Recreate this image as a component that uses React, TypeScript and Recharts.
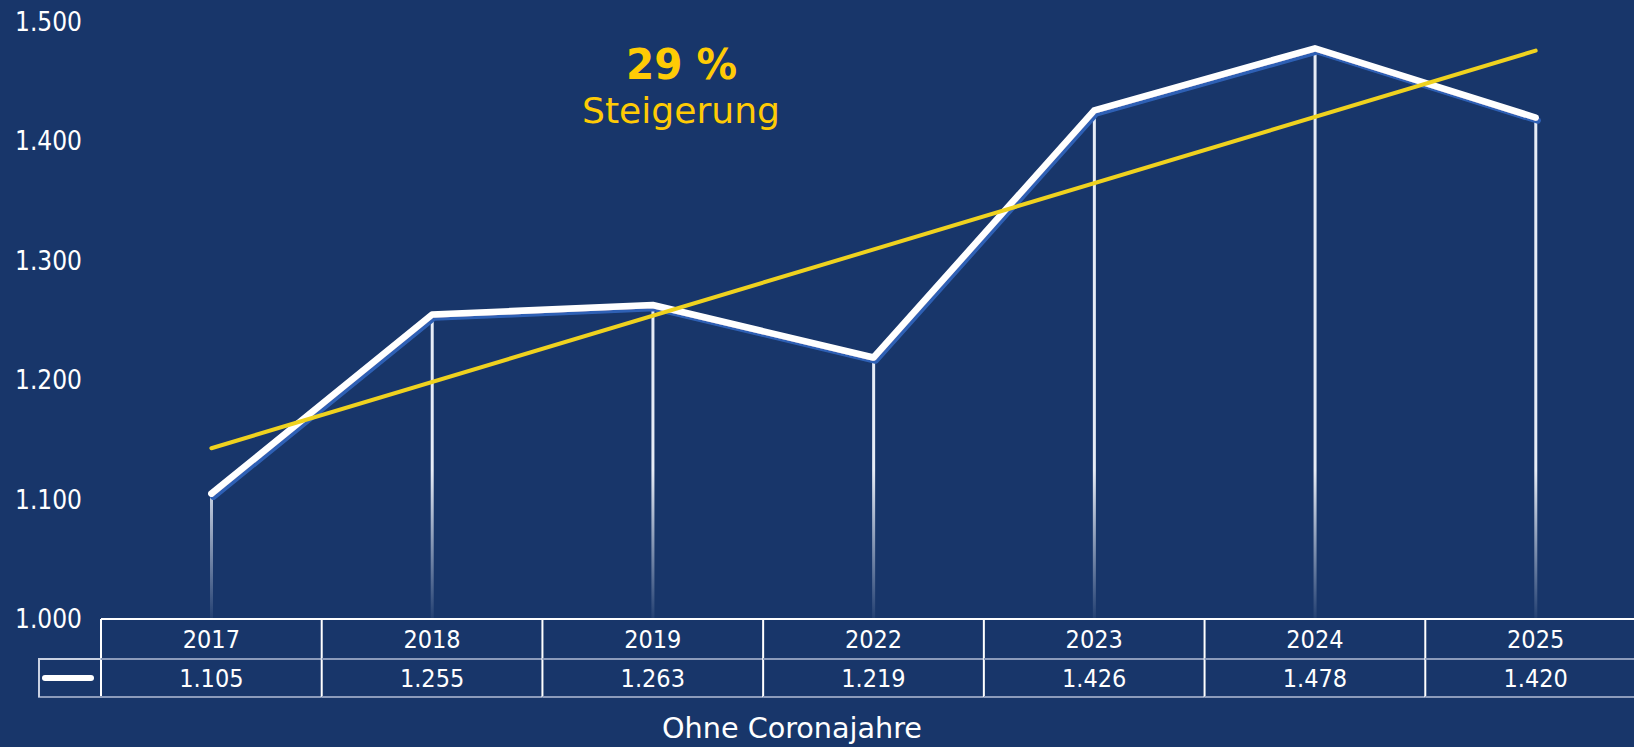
import { ComposedChart, Line, Bar, XAxis, YAxis } from 'recharts'

const years = ['2017', '2018', '2019', '2022', '2023', '2024', '2025']
const values = [1105, 1255, 1263, 1219, 1426, 1478, 1420]
// trend line end points
const trend = [1143, null, null, null, null, null, 1476]
const yTicks = [1000, 1100, 1200, 1300, 1400, 1500]

const BG = '#18366a'
const FONT = '"DejaVu Sans Condensed", "DejaVu Sans", sans-serif'
const W = 1634
const H = 747
// the plot runs a little past the right edge, like the original
const CHART_W = 1646
const PLOT_LEFT = 101
const BAND = (CHART_W - PLOT_LEFT) / years.length

const data = years.map((year, i) => ({ year, value: values[i], trend: trend[i] }))

const fmt = (n: number) => `${Math.floor(n / 1000)}.${String(n % 1000).padStart(3, '0')}`

function YTick({ y, payload }: any) {
  return (
    <text x={15} y={y} dy={9} fill="#fff" fontSize={26} fontFamily={FONT} textAnchor="start">
      {fmt(payload.value)}
    </text>
  )
}

function TableTick({ x, y, payload }: any) {
  const i = payload.index
  const left = x - BAND / 2
  const right = x + BAND / 2
  return (
    <g>
      <line x1={left} x2={left} y1={y} y2={y + 78} stroke="#fff" strokeWidth={2} />
      <line x1={left} x2={right} y1={y + 40} y2={y + 40} stroke="#8c9bbb" strokeWidth={2} />
      <line x1={left} x2={right} y1={y + 78} y2={y + 78} stroke="#8c9bbb" strokeWidth={2} />
      <text x={x} y={y + 29} fill="#fff" fontSize={25} fontFamily={FONT} textAnchor="middle">
        {payload.value}
      </text>
      <text x={x} y={y + 68} fill="#fff" fontSize={25} fontFamily={FONT} textAnchor="middle">
        {fmt(values[i])}
      </text>
      {i === 0 && (
        <g>
          <line x1={38} x2={left} y1={y + 40} y2={y + 40} stroke="#c9d1e2" strokeWidth={2} />
          <line x1={38} x2={left} y1={y + 78} y2={y + 78} stroke="#8c9bbb" strokeWidth={2} />
          <line x1={39} x2={39} y1={y + 40} y2={y + 78} stroke="#c9d1e2" strokeWidth={2} />
          <line x1={45} x2={91} y1={y + 59} y2={y + 59} stroke="#fff" strokeWidth={6} strokeLinecap="round" />
        </g>
      )}
    </g>
  )
}

export default function App() {
  return (
    <div style={{ position: 'absolute', left: 0, top: 0, width: W, height: H, background: BG, overflow: 'hidden' }}>
      <ComposedChart width={CHART_W} height={H} data={data} margin={{ top: 22, right: 0, left: 0, bottom: 0 }} barCategoryGap={0}>
        <defs>
          <linearGradient id="dropFade" x1="0" y1="470" x2="0" y2="619" gradientUnits="userSpaceOnUse">
            <stop offset="0" stopColor="#e6ecf6" stopOpacity={1} />
            <stop offset="1" stopColor="#e6ecf6" stopOpacity={0.05} />
          </linearGradient>
          <filter id="lineShadow" x="-5%" y="-10%" width="110%" height="130%">
            <feDropShadow dx="2" dy="3" stdDeviation="0" floodColor="#2f61b5" floodOpacity={1} />
          </filter>
        </defs>
        <XAxis
          dataKey="year"
          height={128}
          axisLine={{ stroke: '#fff', strokeWidth: 2 }}
          tickLine={false}
          tickSize={0}
          tickMargin={0}
          interval={0}
          tick={<TableTick />}
        />
        <YAxis
          domain={[1000, 1500]}
          ticks={yTicks}
          width={PLOT_LEFT}
          axisLine={false}
          tickLine={false}
          tick={<YTick />}
        />
        <Bar dataKey="value" barSize={3} fill="url(#dropFade)" isAnimationActive={false} />
        <Line
          dataKey="value"
          type="linear"
          stroke="#fff"
          strokeWidth={6.5}
          strokeLinecap="round"
          strokeLinejoin="round"
          dot={false}
          activeDot={false}
          filter="url(#lineShadow)"
          isAnimationActive={false}
        />
        <Line
          dataKey="trend"
          type="linear"
          connectNulls
          stroke="#efd21f"
          strokeWidth={4}
          strokeLinecap="round"
          dot={false}
          activeDot={false}
          isAnimationActive={false}
        />
      </ComposedChart>
      <svg width={W} height={H} style={{ position: 'absolute', left: 0, top: 0, pointerEvents: 'none' }}>
        <text x={626} y={79} fill="#ffcb05" fontSize={43} fontWeight="bold" fontFamily={FONT}
          textLength={111} lengthAdjust="spacingAndGlyphs">
          29 %
        </text>
        <text x={582} y={123} fill="#ffcb05" fontSize={36} fontFamily={FONT}
          textLength={198} lengthAdjust="spacingAndGlyphs">
          Steigerung
        </text>
        <text x={662} y={738} fill="#fff" fontSize={29} fontFamily={FONT}
          textLength={260} lengthAdjust="spacingAndGlyphs">
          Ohne Coronajahre
        </text>
      </svg>
    </div>
  )
}
